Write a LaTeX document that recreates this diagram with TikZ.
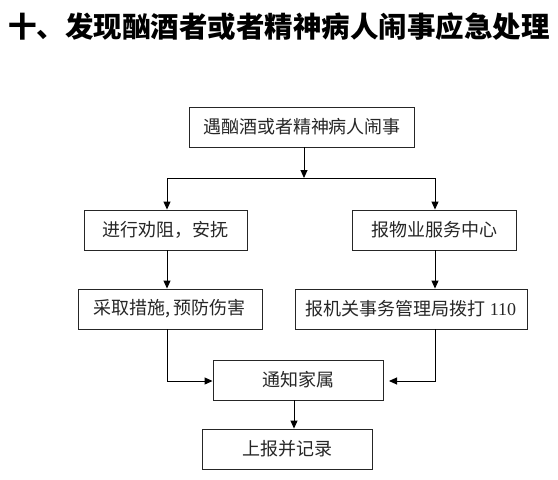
\documentclass[tikz,border=0pt]{standalone}
\usepackage{fontspec}
\setmainfont{Liberation Serif}
\newfontfamily\cjk{Noto Sans CJK SC}
\usetikzlibrary{arrows.meta}
\begin{document}
\begin{tikzpicture}[x=1pt,y=-1pt,
  box/.style={draw=black!85,line width=0.9pt,inner sep=0pt,font=\cjk\fontsize{18}{21}\selectfont,text=black!85},
  arr/.style={line width=1pt,-{Triangle[length=8pt,width=7pt]}},
  ln/.style={line width=1pt}]
\useasboundingbox (0,0) rectangle (558,480);
\node[font=\cjk\bfseries\fontsize{28.5}{31}\selectfont,anchor=center] (title) at (279,27) {十、发现酗酒者或者精神病人闹事应急处理};
\node[box,minimum width=225pt,minimum height=40pt] (b1) at (302,127) {遇酗酒或者精神病人闹事};
\node[box,minimum width=163pt,minimum height=40pt] (b2) at (165.5,230) {进行劝阻，安抚};
\node[box,minimum width=164pt,minimum height=40pt] (b3) at (434,230) {报物业服务中心};
\node[box,minimum width=184pt,minimum height=40pt] (b4) at (170,309) {采取措施,\,预防伤害};
\node[box,minimum width=232pt,minimum height=40pt] (b5) at (411,309) {报机关事务管理局拨打 {\rmfamily 110}};
\node[box,minimum width=170pt,minimum height=40pt] (b6) at (298,380) {通知家属};
\node[box,minimum width=170pt,minimum height=40pt] (b7) at (287,449) {上报并记录};
\coordinate (split) at (304,178);
\coordinate (sl) at (167,178);
\coordinate (sr) at (435,178);
\coordinate (cl) at (167,381);
\coordinate (cr) at (435,381);
\coordinate (tipr) at (389,381);
\draw[arr] (b1.south -| split) -- (split);
\draw[ln] (sl) -- (sr);
\draw[arr] (sl) -- (b2.north -| sl);
\draw[arr] (sr) -- (b3.north -| sr);
\draw[arr] (b2.south -| sl) -- (b4.north -| sl);
\draw[arr] (b3.south -| sr) -- (b5.north -| sr);
\draw[arr] (b4.south -| cl) -- (cl) -- (b6.west |- cl);
\draw[arr] (b5.south -| cr) -- (cr) -- (tipr);
\draw[arr] (b6.south -| 294,0) -- (b7.north -| 294,0);
\end{tikzpicture}
\end{document}
